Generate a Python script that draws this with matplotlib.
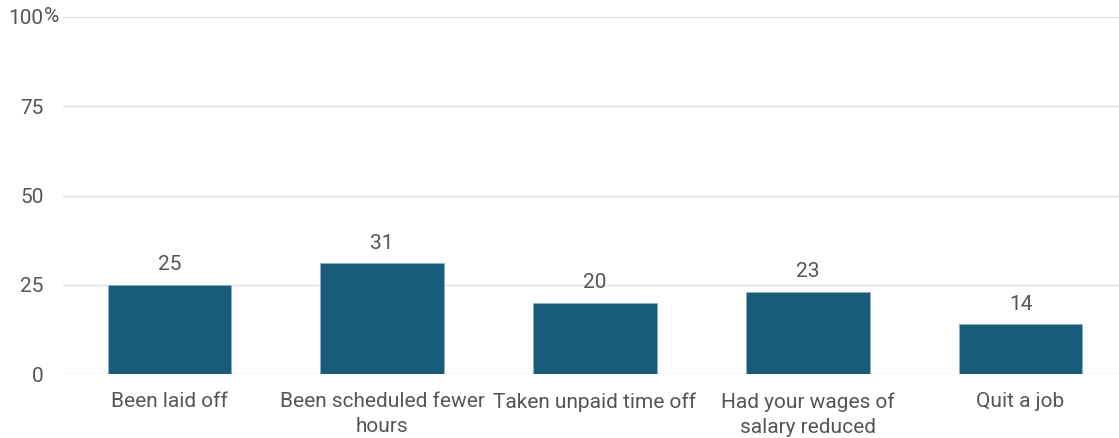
import matplotlib.pyplot as plt
import matplotlib.transforms as mtransforms

categories = [
    "Been laid off",
    "Been scheduled fewer\nhours",
    "Taken unpaid time off",
    "Had your wages of\nsalary reduced",
    "Quit a job",
]
values = [25, 31, 20, 23, 14]
yticks = [0, 25, 50, 75, 100]
ytick_labels = ["0", "25", "50", "75", "100"]

plt.rcParams["font.family"] = ["Roboto", "DejaVu Sans"]
text_color = "#555555"
bar_color = "#185c7a"
fs = 15

fig = plt.figure(figsize=(11.19, 4.38), dpi=100)
ax = fig.add_axes([63 / 1119, 64 / 438, 1064 / 1119, 357 / 438])

x = list(range(len(categories)))
ax.bar(x, values, width=0.58, color=bar_color, edgecolor="#8fb0c2",
       linewidth=0.6, zorder=3)

for xi, v in zip(x, values):
    ax.annotate(str(v), (xi, v), xytext=(0, 7.5), textcoords="offset points",
                ha="center", va="bottom", fontsize=fs, color=text_color)

ax.set_xlim(-0.5, 4.5)
ax.set_ylim(0, 100)
ax.set_yticks(yticks)
ax.set_yticklabels(ytick_labels)
ax.set_xticks(x)
ax.set_xticklabels(categories, linespacing=1.4)

# percent sign after the top tick label
trans = mtransforms.blended_transform_factory(ax.transAxes, ax.transData)
ax.annotate("%", (0, 100), xycoords=trans, xytext=(-14, 0),
            textcoords="offset points", ha="left", va="center",
            fontsize=fs, color=text_color)

ax.grid(axis="y", color="#e0e0e0", linewidth=1, zorder=0)
for s in ax.spines.values():
    s.set_visible(False)
ax.tick_params(axis="both", length=0, labelsize=fs, labelcolor=text_color)
ax.tick_params(axis="y", pad=14)
ax.tick_params(axis="x", pad=13)

fig.savefig("out.png", dpi=100)
